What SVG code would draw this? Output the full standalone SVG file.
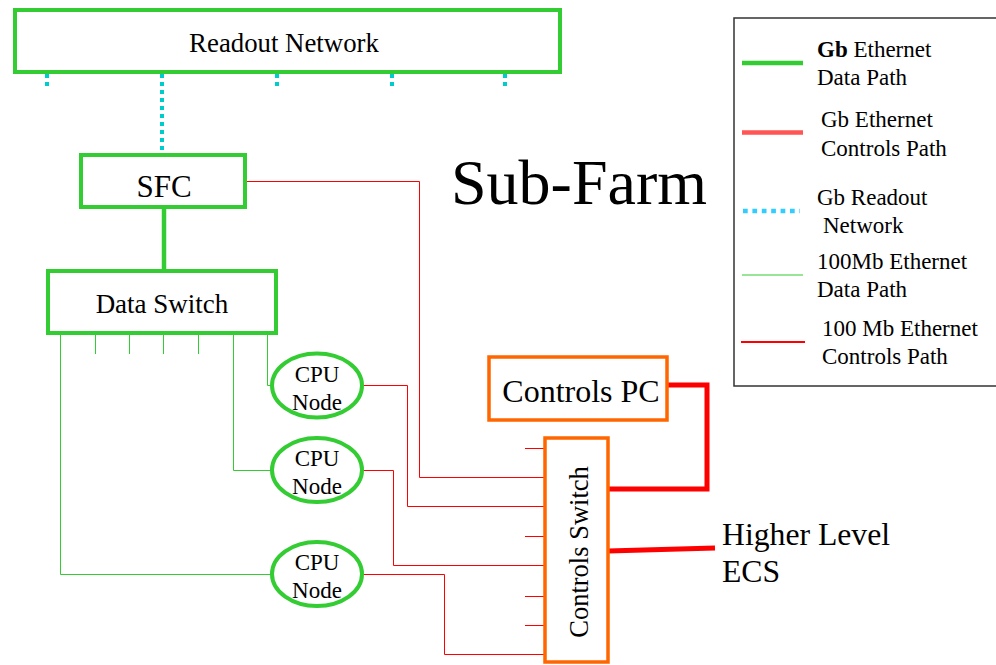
<svg xmlns="http://www.w3.org/2000/svg" width="996" height="665" viewBox="0 0 996 665">
  <defs>
    <style>
      text { font-family: "Liberation Serif", "Times New Roman", serif; fill: #000; }
      .box-g { fill: #fff; stroke: #33cc33; stroke-width: 4; }
      .box-o { fill: #fff; stroke: #ff6600; stroke-width: 3.5; }
      .gb-data { fill: none; stroke: #33cc33; stroke-width: 4.5; }
      .fe-data { fill: none; stroke: #33cc33; stroke-width: 1; }
      .gb-ctrl { fill: none; stroke: #ff0000; stroke-width: 5; }
      .fe-ctrl { fill: none; stroke: #ff0000; stroke-width: 1; }
      .readout { fill: none; stroke: #00cccc; stroke-width: 4; stroke-dasharray: 4 4; }
      .mid { text-anchor: middle; }
      .legend-text { font-size: 23px; }
    </style>
  </defs>

  <rect width="996" height="665" fill="#fff"/>

  <!-- connectors -->
  <g id="connectors">
    <!-- readout network taps -->
    <line class="readout" x1="47" y1="74" x2="47" y2="88"/>
    <line class="readout" x1="162" y1="74" x2="162" y2="154"/>
    <line class="readout" x1="277" y1="74" x2="277" y2="88"/>
    <line class="readout" x1="392" y1="74" x2="392" y2="88"/>
    <line class="readout" x1="505" y1="74" x2="505" y2="88"/>

    <!-- SFC to data switch -->
    <line class="gb-data" x1="164" y1="208" x2="164" y2="270"/>

    <!-- data switch ports -->
    <line class="fe-data" x1="95.5" y1="333" x2="95.5" y2="354"/>
    <line class="fe-data" x1="129.5" y1="333" x2="129.5" y2="354"/>
    <line class="fe-data" x1="163.5" y1="333" x2="163.5" y2="354"/>
    <line class="fe-data" x1="198.5" y1="333" x2="198.5" y2="354"/>
    <polyline class="fe-data" points="60.5,333 60.5,574.5 272,574.5"/>
    <polyline class="fe-data" points="233.5,333 233.5,470.5 272,470.5"/>
    <polyline class="fe-data" points="267.5,333 267.5,385.5 272,385.5"/>

    <!-- controls paths -->
    <polyline class="fe-ctrl" points="247,181.5 419.5,181.5 419.5,477.5 545,477.5"/>
    <polyline class="fe-ctrl" points="362,385.5 407.5,385.5 407.5,506.5 545,506.5"/>
    <polyline class="fe-ctrl" points="362,470.5 393.5,470.5 393.5,565.5 545,565.5"/>
    <polyline class="fe-ctrl" points="362,574.5 444.5,574.5 444.5,654.5 545,654.5"/>

    <!-- controls switch spare ports -->
    <line class="fe-ctrl" x1="525" y1="448.5" x2="545" y2="448.5"/>
    <line class="fe-ctrl" x1="525" y1="536.5" x2="545" y2="536.5"/>
    <line class="fe-ctrl" x1="525" y1="596.5" x2="545" y2="596.5"/>
    <line class="fe-ctrl" x1="525" y1="625.5" x2="545" y2="625.5"/>

    <!-- controls PC and higher level ECS uplinks -->
    <polyline class="gb-ctrl" points="667,385 707,385 707,489 608,489"/>
    <line class="gb-ctrl" x1="608" y1="551" x2="715" y2="548"/>
  </g>

  <!-- nodes -->
  <g id="readout-network">
    <rect class="box-g" x="15" y="10" width="545" height="62"/>
    <text class="mid" x="284" y="52" font-size="26.8">Readout Network</text>
  </g>

  <g id="sfc">
    <rect class="box-g" x="81" y="155" width="164" height="52"/>
    <text class="mid" x="164" y="197" font-size="31">SFC</text>
  </g>

  <g id="data-switch">
    <rect class="box-g" x="48" y="271" width="228" height="62"/>
    <text class="mid" x="162" y="313" font-size="27">Data Switch</text>
  </g>

  <g id="cpu-node-1">
    <ellipse class="box-g" cx="317" cy="385.5" rx="45" ry="32" stroke-width="3.5"/>
    <text class="mid" x="317" y="382" font-size="23">CPU</text>
    <text class="mid" x="317" y="410" font-size="23">Node</text>
  </g>

  <g id="cpu-node-2">
    <ellipse class="box-g" cx="317" cy="470" rx="45" ry="32" stroke-width="3.5"/>
    <text class="mid" x="317" y="466" font-size="23">CPU</text>
    <text class="mid" x="317" y="494" font-size="23">Node</text>
  </g>

  <g id="cpu-node-3">
    <ellipse class="box-g" cx="317" cy="574" rx="45" ry="32" stroke-width="3.5"/>
    <text class="mid" x="317" y="570" font-size="23">CPU</text>
    <text class="mid" x="317" y="598" font-size="23">Node</text>
  </g>

  <g id="controls-pc">
    <rect class="box-o" x="489" y="357" width="178" height="63"/>
    <text class="mid" x="581" y="402" font-size="32">Controls PC</text>
  </g>

  <g id="controls-switch">
    <rect class="box-o" x="545" y="438" width="63" height="224"/>
    <text class="mid" transform="translate(588,552) rotate(-90)" font-size="26.5">Controls Switch</text>
  </g>

  <g id="higher-level-ecs">
    <text x="722" y="545" font-size="31.7">Higher Level</text>
    <text x="722" y="582" font-size="31.7">ECS</text>
  </g>

  <g id="title">
    <text x="451" y="204" font-size="64">Sub-Farm</text>
  </g>

  <!-- legend -->
  <g id="legend">
    <rect x="734" y="18" width="270" height="368" fill="#fff" stroke="#333" stroke-width="1.5"/>
    <line x1="742" y1="63" x2="803" y2="63" stroke="#33cc33" stroke-width="4.5"/>
    <text class="legend-text" x="817" y="57"><tspan font-weight="bold">Gb</tspan> Ethernet</text>
    <text class="legend-text" x="817" y="85">Data Path</text>

    <line x1="742" y1="132.5" x2="803" y2="132.5" stroke="#ff5555" stroke-width="4.5"/>
    <text class="legend-text" x="821" y="127">Gb Ethernet</text>
    <text class="legend-text" x="821" y="156">Controls Path</text>

    <line x1="743" y1="211" x2="800" y2="211" stroke="#33ccff" stroke-width="4.5" stroke-dasharray="4.7 4.7"/>
    <text class="legend-text" x="817" y="205">Gb Readout</text>
    <text class="legend-text" x="823" y="233">Network</text>

    <line x1="742" y1="275" x2="803" y2="275" stroke="#33cc33" stroke-width="1.2"/>
    <text class="legend-text" x="817" y="269">100Mb Ethernet</text>
    <text class="legend-text" x="817" y="297">Data Path</text>

    <line x1="741" y1="342" x2="805" y2="342" stroke="#ff0000" stroke-width="2"/>
    <text class="legend-text" x="822" y="336">100 Mb Ethernet</text>
    <text class="legend-text" x="822" y="364">Controls Path</text>
  </g>
</svg>
